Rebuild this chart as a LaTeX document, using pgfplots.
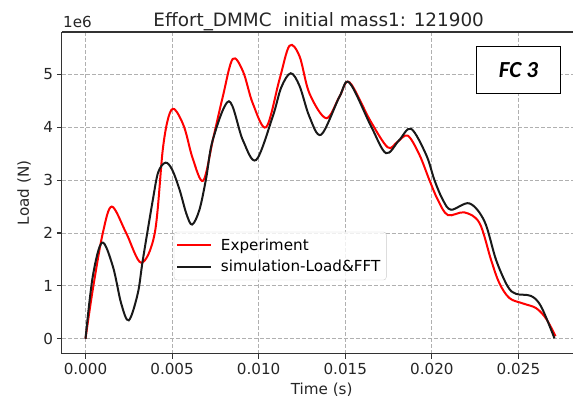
\documentclass[border=0pt]{standalone}
\usepackage{fontspec}
\setmainfont{DejaVu Sans}
\newfontfamily\calibri{Carlito}
\usepackage{pgfplots}
\pgfplotsset{compat=1.18}
\definecolor{gridgray}{HTML}{B0B0B0}
\definecolor{legedge}{HTML}{CCCCCC}
\begin{document}
\begin{tikzpicture}
\path (0,0) rectangle (574pt,400pt);
\begin{axis}[
  at={(62pt,46pt)}, anchor=south west,
  scale only axis, width=512pt, height=322pt,
  xmin=-0.00136, xmax=0.028176,
  ymin=-0.28, ymax=5.80,
  axis x line=box, axis y line*=left,
  xtick pos=bottom, ytick pos=left,
  xtick={0,0.005,0.01,0.015,0.02,0.025},
  ytick={0,1,2,3,4,5},
  scaled x ticks=false, scaled y ticks=false,
  xticklabels={0.000,0.005,0.010,0.015,0.020,0.025},
  /pgf/number format/assume math mode=true,
  tick label style={font=\fontsize{15.2}{18}\selectfont, text=black!85},
  xticklabel style={yshift=-1pt},
  yticklabel style={xshift=-0.5pt},
  tick align=outside,
  major tick length=5pt,
  every tick/.style={black!80, line width=1.1pt},
  axis line style={black!80, line width=1.1pt, -},
  grid=major,
  major grid style={gridgray, line width=0.9pt, dash pattern=on 4pt off 2pt},
  clip=false,
  legend cell align=left,
  legend style={at={(rel axis cs:0.2187,0.3789)}, anchor=north west,
    draw=legedge, rounded corners=3pt, fill=white, fill opacity=0.8, text opacity=1,
    font=\fontsize{15.2}{18}\selectfont, inner xsep=2pt, inner ysep=5pt,
    row sep=4pt, nodes={inner xsep=4pt},
    /tikz/every odd column/.append style={column sep=5pt}},
  legend image code/.code={\draw[#1] (0pt,0pt) -- (34pt,0pt);},
]
\addplot[red, line width=2pt, smooth, tension=0.55] coordinates {
(0,0) (0.00042,0.93) (0.0010,2.0) (0.00152,2.50) (0.00235,2.0) (0.00322,1.44)
(0.0040,2.0) (0.00446,3.57) (0.0048,4.2) (0.00514,4.34) (0.0057,4.0) (0.0062,3.4)
(0.0068,2.99) (0.00738,3.8) (0.00793,4.58) (0.0085,5.29) (0.0091,5.05) (0.00966,4.45) (0.01043,4.0)
(0.0112,4.9) (0.01178,5.54) (0.01236,5.34) (0.01293,4.64) (0.0139,4.17) (0.01467,4.58)
(0.01524,4.85) (0.01645,4.12) (0.01745,3.62) (0.0180,3.72) (0.01861,3.84) (0.01928,3.48) (0.01986,3.0)
(0.02034,2.63) (0.02092,2.34) (0.02188,2.39) (0.02275,2.19) (0.02342,1.49) (0.0239,1.05)
(0.02448,0.77) (0.02525,0.67) (0.02602,0.58) (0.0266,0.38) (0.02714,0.05)
};
\addlegendentry{Experiment}
\addplot[black!90, line width=2pt, smooth, tension=0.55] coordinates {
(0,0) (0.00042,1.18) (0.00096,1.82) (0.00158,1.37) (0.00206,0.67) (0.0025,0.35)
(0.00302,0.86) (0.00331,1.49) (0.00389,2.63) (0.0042,3.15) (0.00462,3.33) (0.005,3.2)
(0.00543,2.82) (0.00583,2.36) (0.00616,2.16) (0.00658,2.44) (0.00697,3.04) (0.00735,3.76) (0.00828,4.49)
(0.00908,3.76) (0.00985,3.38) (0.01081,4.2) (0.0113,4.75) (0.01185,5.02) (0.01236,4.78)
(0.01293,4.2) (0.01361,3.86) (0.01467,4.58) (0.01524,4.84) (0.0165,4.01) (0.01735,3.51)
(0.0181,3.75) (0.0188,3.97) (0.01967,3.48) (0.02015,3.0) (0.02063,2.63) (0.02111,2.44) (0.02217,2.56)
(0.02304,2.22) (0.02371,1.49) (0.02438,0.99) (0.02486,0.85) (0.02573,0.81) (0.02631,0.61)
(0.02708,0.01)
};
\addlegendentry{simulation-Load\&FFT}
\node[draw=black, line width=1pt, fill=white, minimum width=83.4pt, minimum height=47.6pt,
  font=\calibri\bfseries\itshape\fontsize{23}{26}\selectfont] at (rel axis cs:0.8926,0.882) {FC 3};
\node[anchor=base, inner sep=0pt, font=\fontsize{18.4}{22}\selectfont, text=black!85]
  at ([yshift=5pt]rel axis cs:0.502,1) {Effort\_DMMC\ \ initial mass1: 121900};
\node[anchor=base west, inner sep=0pt, font=\fontsize{15.2}{18}\selectfont, text=black!85]
  at ([yshift=4pt, xshift=1pt]rel axis cs:0,1) {1e6};
\node[anchor=base, inner sep=0pt, font=\fontsize{15.2}{18}\selectfont, text=black!85]
  at ([yshift=-41pt]rel axis cs:0.5078,0) {Time (s)};
\node[anchor=base, rotate=90, inner sep=0pt, font=\fontsize{15.2}{18}\selectfont, text=black!85]
  at ([xshift=-33pt]rel axis cs:0,0.5) {Load (N)};
\end{axis}
\end{tikzpicture}
\end{document}
